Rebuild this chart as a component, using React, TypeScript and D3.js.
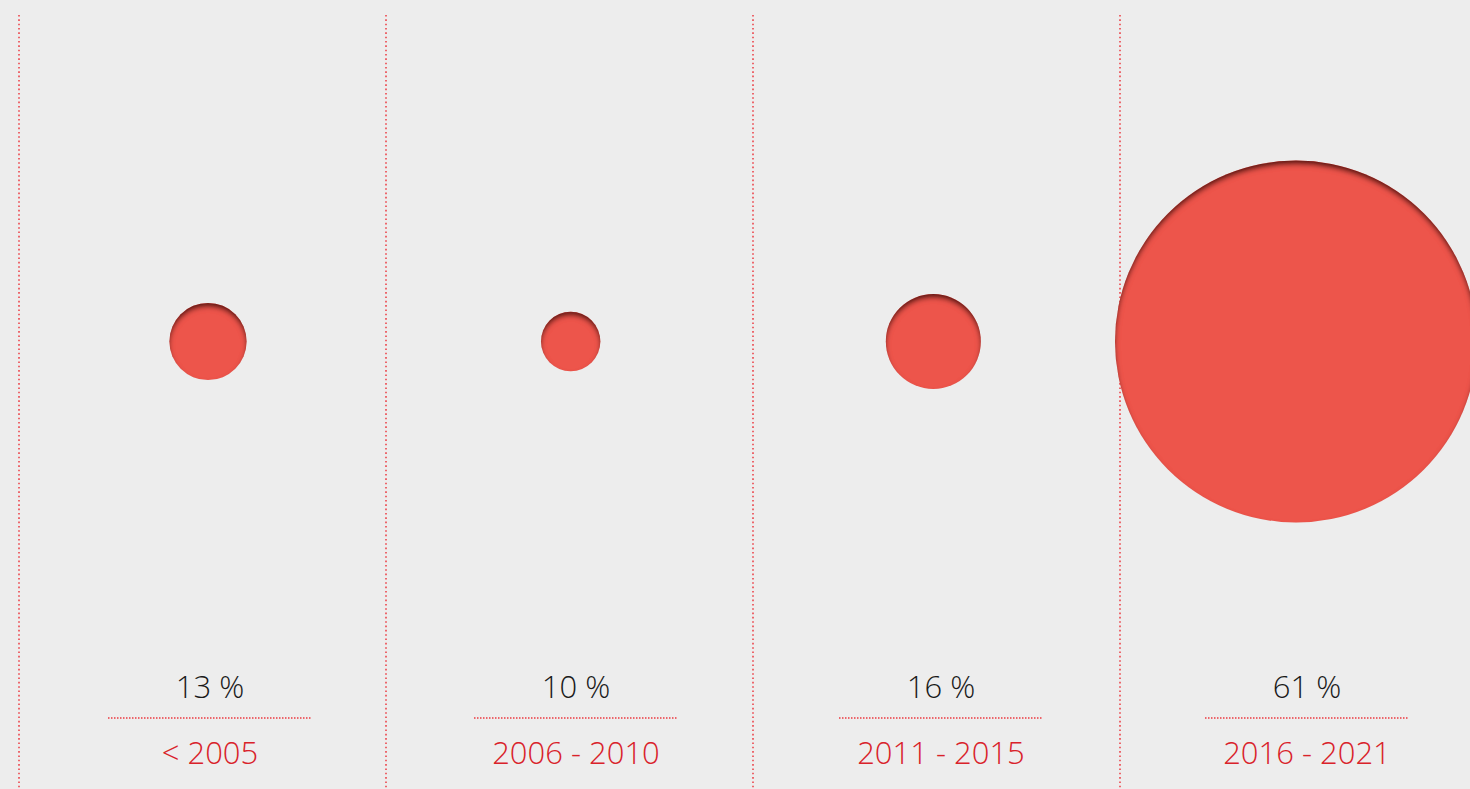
import React from "react";
import * as d3 from "d3";

const categories = ["< 2005", "2006 - 2010", "2011 - 2015", "2016 - 2021"];
const values = [13, 10, 16, 61];
const valueLabels = ["13 %", "10 %", "16 %", "61 %"];

const W = 1470;
const H = 789;

export default function App() {
  const col = d3.scaleBand<string>().domain(categories).range([19, 19 + 367 * 4]).padding(0);
  const circleX = d3.scalePoint<string>().domain(categories).range([208, 1296]);
  const labelX = d3.scalePoint<string>().domain(categories).range([210, 1307]);
  const r = d3.scaleLinear().domain([0, 61]).range([0, 181]);
  const cy = 341.5;
  const font = "'Open Sans', 'DejaVu Sans', sans-serif";
  const dotRed = "#ec3a40";

  return (
    <svg
      width={W}
      height={H}
      style={{ position: "absolute", left: 0, top: 0, background: "#ededed", display: "block" }}
    >
      <defs>
        <filter id="inset" x="-10%" y="-10%" width="120%" height="120%">
          <feComponentTransfer in="SourceAlpha" result="inv">
            <feFuncA type="table" tableValues="1 0" />
          </feComponentTransfer>
          <feGaussianBlur in="inv" stdDeviation="2.4" result="blur" />
          <feOffset in="blur" dx="0" dy="3.5" result="off" />
          <feFlood floodColor="#2a0505" floodOpacity="0.9" result="color" />
          <feComposite in="color" in2="off" operator="in" result="shadow" />
          <feComposite in="shadow" in2="SourceAlpha" operator="in" result="inner" />
          <feMerge>
            <feMergeNode in="SourceGraphic" />
            <feMergeNode in="inner" />
          </feMerge>
        </filter>
      </defs>
      <rect x={0} y={0} width={W} height={H} fill="#ededed" />
      {categories.map((c) => {
        const x = Math.round(col(c) as number);
        return (
          <line
            key={"v" + c}
            x1={x}
            x2={x}
            y1={15}
            y2={H}
            stroke={dotRed}
            strokeWidth={1.5}
            strokeDasharray="1.6 2.73"
          />
        );
      })}
      {categories.map((c, i) => (
        <circle
          key={"c" + c}
          cx={circleX(c)}
          cy={cy}
          r={r(values[i])}
          fill="#ed544b"
          filter="url(#inset)"
        />
      ))}
      {categories.map((c, i) => {
        const cx = Math.round(labelX(c) as number);
        return (
          <g key={"t" + c}>
            <text
              x={cx}
              y={698}
              textAnchor="middle"
              fontFamily={font}
              fontWeight={300}
              fontSize={31}
              fill="#1a1a1a"
            >
              {valueLabels[i]}
            </text>
            <line
              x1={cx - 102}
              x2={cx + 102}
              y1={718}
              y2={718}
              stroke={dotRed}
              strokeWidth={1.5}
              strokeDasharray="1.5 1.5"
            />
            <text
              x={cx}
              y={764}
              textAnchor="middle"
              fontFamily={font}
              fontWeight={300}
              fontSize={31}
              fill="#d9222a"
            >
              {c}
            </text>
          </g>
        );
      })}
    </svg>
  );
}
